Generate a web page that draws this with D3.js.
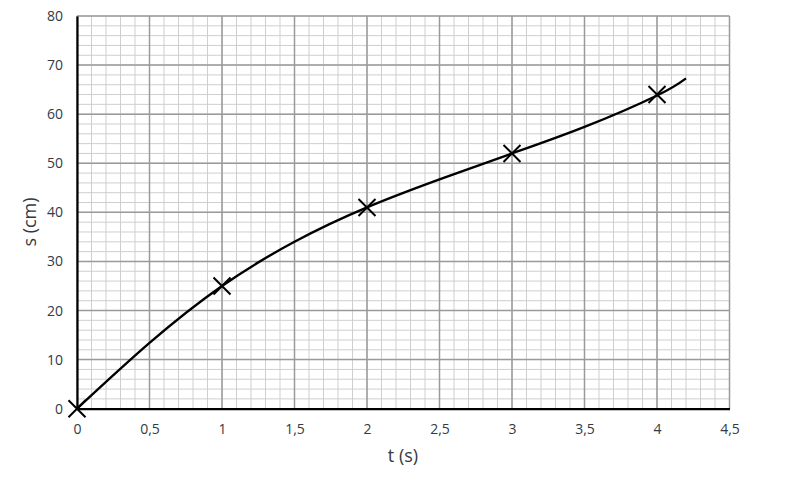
<!DOCTYPE html>
<html><head><meta charset="utf-8">
<script src="https://cdn.jsdelivr.net/npm/d3@7"></script>
<style>html,body{margin:0;padding:0;background:#fff;}svg{display:block;font-family:"Open Sans","Liberation Sans",sans-serif;}</style>
</head><body><svg id="c" width="799" height="479"></svg>
<script>
const pointT = [0, 1, 2, 3, 4];
const pointS = [0, 25, 41, 52, 64];
const curveT = [0, 0.5, 1, 1.5, 2, 2.5, 3, 3.5, 4, 4.2];
const curveS = [0, 13.4, 25, 34.0, 41, 46.7, 52, 57.4, 63.8, 67.3];
const xTicks = [0, 0.5, 1, 1.5, 2, 2.5, 3, 3.5, 4, 4.5];
const yTicks = [0, 10, 20, 30, 40, 50, 60, 70, 80];

const svg = d3.select("#c");
const x = d3.scaleLinear().domain([0, 4.5]).range([77, 729.5]);
const y = d3.scaleLinear().domain([0, 80]).range([408.7, 16]);
const fmt = d => String(d).replace(".", ",");

// minor grid
const minorX = d3.range(0, 4.5001, 0.1);
const minorY = d3.range(0, 80.001, 2);
svg.append("g").selectAll("line").data(minorX).join("line")
  .attr("x1", d => x(d)).attr("x2", d => x(d)).attr("y1", y(0)).attr("y2", y(80))
  .attr("stroke", "#cfcfcf").attr("stroke-width", 1);
svg.append("g").selectAll("line").data(minorY).join("line")
  .attr("y1", d => y(d)).attr("y2", d => y(d)).attr("x1", x(0)).attr("x2", x(4.5))
  .attr("stroke", "#cfcfcf").attr("stroke-width", 1);
// major grid
svg.append("g").selectAll("line").data(xTicks).join("line")
  .attr("x1", d => x(d)).attr("x2", d => x(d)).attr("y1", y(0)).attr("y2", y(80))
  .attr("stroke", "#9a9a9a").attr("stroke-width", 1.5);
svg.append("g").selectAll("line").data(yTicks).join("line")
  .attr("y1", d => y(d)).attr("y2", d => y(d)).attr("x1", x(0)).attr("x2", x(4.5))
  .attr("stroke", "#9a9a9a").attr("stroke-width", 1.5);

// axes
const xAxis = svg.append("g").attr("transform", `translate(0,${y(0)})`)
  .call(d3.axisBottom(x).tickValues(xTicks).tickFormat(fmt).tickSize(0).tickPadding(15));
const yAxis = svg.append("g").attr("transform", `translate(${x(0)},0)`)
  .call(d3.axisLeft(y).tickValues(yTicks).tickSize(0).tickPadding(14));
[xAxis, yAxis].forEach(a => {
  a.select(".domain").attr("stroke", "#000").attr("stroke-width", 2.2);
  a.selectAll("text").attr("fill", "#333a44").style("font-size", "14px").style("font-family", "'Open Sans','Liberation Sans',sans-serif");
});

// curve
const line = d3.line().x(d => x(d[0])).y(d => y(d[1])).curve(d3.curveNatural);
svg.append("path").datum(curveT.map((t, i) => [t, curveS[i]]))
  .attr("d", line).attr("fill", "none").attr("stroke", "#000").attr("stroke-width", 2.4);

// markers
const pts = pointT.map((t, i) => [t, pointS[i]]);
const s = 8.5;
svg.append("g").selectAll("path").data(pts).join("path")
  .attr("d", d => `M${x(d[0]) - s},${y(d[1]) - s}L${x(d[0]) + s},${y(d[1]) + s}M${x(d[0]) - s},${y(d[1]) + s}L${x(d[0]) + s},${y(d[1]) - s}`)
  .attr("stroke", "#000").attr("stroke-width", 2).attr("fill", "none");

// titles
svg.append("text").attr("x", 403).attr("y", 462).attr("text-anchor", "middle")
  .attr("fill", "#333a44").style("font-size", "18px").text("t (s)");
svg.append("text").attr("transform", `translate(36,222) rotate(-90)`).attr("text-anchor", "middle")
  .attr("fill", "#333a44").style("font-size", "18px").text("s (cm)");
</script></body></html>
